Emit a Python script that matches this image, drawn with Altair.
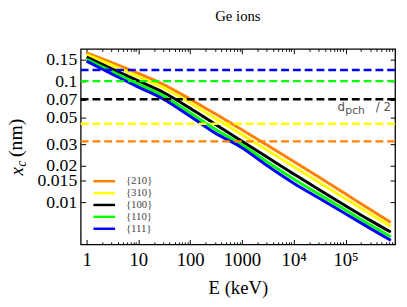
import altair as alt
import pandas as pd

# ---- data ----
E = [1, 3, 10, 30, 100, 300, 1000, 3000, 1e4, 3e4, 1e5, 3e5, 7.5e5]
xc_210 = [0.1721, 0.1432, 0.1162, 0.0945, 0.0711, 0.0540, 0.0397, 0.0298, 0.0217, 0.0162, 0.0117, 0.00869, 0.00681]
xc_310 = [0.1661, 0.1365, 0.1094, 0.0887, 0.0661, 0.0497, 0.0362, 0.0271, 0.01965, 0.01468, 0.01066, 0.00797, 0.00630]
xc_100 = [0.1582, 0.1276, 0.1006, 0.0811, 0.0598, 0.0443, 0.0319, 0.0237, 0.01711, 0.01275, 0.00933, 0.00706, 0.00565]
xc_110 = [0.1518, 0.1206, 0.0944, 0.0757, 0.0549, 0.0403, 0.0298, 0.0217, 0.01555, 0.0117, 0.00859, 0.00649, 0.00518]
xc_111 = [0.1468, 0.1153, 0.0895, 0.0714, 0.0513, 0.0374, 0.0282, 0.0202, 0.01435, 0.01086, 0.00800, 0.00606, 0.00482]
planes = ["{210}", "{310}", "{100}", "{110}", "{111}"]
colors = ["#FF8000", "#FFFF00", "#000000", "#00FF00", "#0000FF"]
half_dpch = [0.0318, 0.0445, 0.0710, 0.1003, 0.1240]

x_ticks = [1, 10, 100, 1000, 1e4, 1e5]
x_minor = [m * 10 ** k for k in range(0, 6) for m in range(2, 10)]
y_ticks = [0.01, 0.015, 0.02, 0.03, 0.05, 0.07, 0.1, 0.15]

ann_E = [70000]
ann_xc = [0.0570]

W, H = 320, 199
SERIF = "Liberation Serif"

# legend layout (pixels inside the plot area)
LEG_Y0, LEG_DY = 134.7, 12.1

series = [xc_210, xc_310, xc_100, xc_110, xc_111]
rows = []
for p, vals in zip(planes, series):
    for i, (e, v) in enumerate(zip(E, vals)):
        rows.append({"E": e, "xc": v, "plane": p, "order": i})
curves_df = pd.DataFrame(rows)
rules_df = pd.DataFrame({"plane": planes, "xc": half_dpch})
ann_df = pd.DataFrame({"E": ann_E, "xc": ann_xc})
leg_df = pd.DataFrame({"plane": planes, "idx": list(range(len(planes)))})

xscale = alt.Scale(type="log", domain=[0.769, 908000], nice=False)
yscale = alt.Scale(type="log", domain=[0.00447, 0.1854], nice=False)
cscale = alt.Scale(domain=planes, range=colors)

curves = alt.Chart(curves_df).mark_line(strokeWidth=3, interpolate="monotone").encode(
    x=alt.X("E:Q", scale=xscale, axis=alt.Axis(
        orient="bottom", values=x_ticks, ticks=False, domain=False, grid=False,
        labelExpr="datum.value >= 100000 ? '10⁵' : (datum.value >= 10000 ? '10⁴' : format(datum.value, 'd'))",
        labelFont=SERIF, labelFontSize=19, labelColor="black", labelPadding=7,
        labelOverlap=False,
        title="E (keV)", titleFont=SERIF, titleFontSize=19, titleFontWeight="normal",
        titleColor="black", titlePadding=9)),
    y=alt.Y("xc:Q", scale=yscale, axis=alt.Axis(
        orient="left", values=y_ticks, format="~g", ticks=False, domain=False, grid=False,
        labelFont=SERIF, labelFontSize=18, labelColor="black", labelPadding=4,
        labelOverlap=False, title=None)),
    color=alt.Color("plane:N", scale=cscale, legend=None),
    detail="plane:N",
    order="order:Q",
)

rules = alt.Chart(rules_df).mark_rule(strokeDash=[8, 4], strokeWidth=2.5).encode(
    y=alt.Y("xc:Q", scale=yscale, axis=None),
    color=alt.Color("plane:N", scale=cscale, legend=None),
)

def tick_layer(xorient, yorient, xvals, yvals, size):
    enc = {
        "x": alt.X("E:Q", scale=xscale, axis=alt.Axis(
            orient=xorient, offset=-H, values=xvals, labels=False, domain=False, grid=False,
            ticks=True, tickSize=size, tickColor="black", tickWidth=1, title=None)),
    }
    if yvals is not None:
        enc["y"] = alt.Y("xc:Q", scale=yscale, axis=alt.Axis(
            orient=yorient, offset=-W, values=yvals, labels=False, domain=False, grid=False,
            ticks=True, tickSize=size, tickColor="black", tickWidth=1, title=None))
    else:
        enc["y"] = alt.Y("xc:Q", scale=yscale, axis=None)
    return alt.Chart(curves_df).mark_point(opacity=0).encode(**enc)

t1 = tick_layer("top", "right", x_ticks, y_ticks, 5)
t2 = tick_layer("bottom", "left", x_ticks, y_ticks, 5)
t3 = tick_layer("top", "right", x_minor, None, 2.5)
t4 = tick_layer("bottom", "left", x_minor, None, 2.5)

# manual legend
leg_base = alt.Chart(leg_df).transform_calculate(
    ypix=f"{LEG_Y0} + {LEG_DY} * datum.idx")
leg_lines = leg_base.mark_rule(strokeWidth=2.5).encode(
    x=alt.value(13), x2=alt.value(35),
    y=alt.Y("ypix:Q", scale=None, axis=None),
    color=alt.Color("plane:N", scale=cscale, legend=None))
leg_text = leg_base.mark_text(font=SERIF, fontSize=11, color="#444", align="left",
                              baseline="middle").encode(
    x=alt.value(46), y=alt.Y("ypix:Q", scale=None, axis=None), text="plane:N")

ann_base = alt.Chart(ann_df).encode(
    x=alt.X("E:Q", scale=xscale, axis=None), y=alt.Y("xc:Q", scale=yscale, axis=None))
ann_d = ann_base.mark_text(text="d", font="DejaVu Sans", fontSize=12, color="#555",
                           align="left", baseline="alphabetic")
ann_sub = ann_base.mark_text(text="pch", font="DejaVu Sans", fontSize=11, color="#555",
                             align="left", baseline="alphabetic", dx=8, dy=3)
ann_rest = ann_base.mark_text(text="/ 2", font="DejaVu Sans", fontSize=12, color="#555",
                              align="left", baseline="alphabetic", dx=39)

yt_x = alt.Chart(ann_df).mark_text(text="x", font=SERIF, fontStyle="italic", fontSize=19,
                                   angle=270, align="left", baseline="alphabetic", color="black").encode(
    x=alt.value(-59), y=alt.value(129))
yt_c = alt.Chart(ann_df).mark_text(text="c", font=SERIF, fontStyle="italic", fontSize=14,
                                   angle=270, align="left", baseline="alphabetic", color="black").encode(
    x=alt.value(-56), y=alt.value(120))
yt_nm = alt.Chart(ann_df).mark_text(text="(nm)", font=SERIF, fontSize=20,
                                    angle=270, align="left", baseline="alphabetic", color="black").encode(
    x=alt.value(-60), y=alt.value(110))

chart = alt.layer(curves, rules, t1, t2, t3, t4, leg_lines, leg_text,
                  ann_d, ann_sub, ann_rest, yt_x, yt_c, yt_nm).resolve_scale(
    x="shared", y="shared", color="shared"
).properties(
    width=W, height=H,
    title=alt.TitleParams("Ge ions", font=SERIF, fontSize=15, fontWeight="normal",
                          anchor="middle", color="black", offset=23),
    autosize=alt.AutoSizeParams(type="none"),
    padding={"left": 74, "top": 39, "right": 4, "bottom": 52},
).configure_view(stroke="black", strokeWidth=1.3
).configure_axis(labelFont=SERIF, titleFont=SERIF)

chart.save("out.html", embed_options={"renderer": "svg", "actions": False})
